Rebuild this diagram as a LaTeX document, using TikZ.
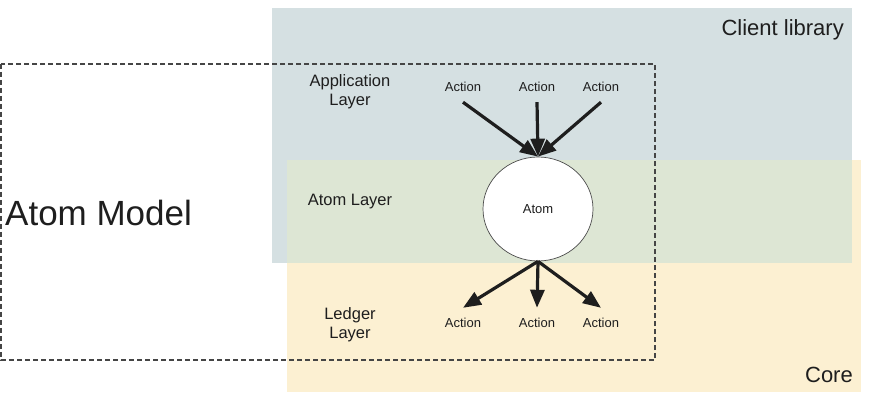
\documentclass[tikz,border=0pt]{standalone}
\usepackage{fontspec}
\setmainfont{Liberation Sans}
\usetikzlibrary{shapes.geometric,arrows.meta}
\definecolor{clientbg}{HTML}{D5E0E2}
\definecolor{overlapbg}{HTML}{DDE6D4}
\definecolor{corebg}{HTML}{FCF0D2}
\definecolor{ink}{HTML}{1E1E1E}
\definecolor{dashink}{HTML}{454545}
\tikzset{
  bigtxt/.style={font=\fontsize{22}{26}\selectfont, text=ink, inner sep=0pt},
  layertxt/.style={font=\fontsize{16.5}{20}\selectfont, text=ink, align=center, inner sep=0pt},
  actiontxt/.style={font=\fontsize{13}{15}\selectfont, text=ink, minimum height=30pt, inner sep=0pt},
  atomnode/.style={ellipse, draw=ink!80, line width=0.7pt, fill=white, minimum width=110pt, minimum height=104pt, font=\fontsize{13}{15}\selectfont, text=ink},
  flow/.style={draw=ink, line width=3.2pt, -{Triangle[length=18pt,width=14pt]}},
  modelbox/.style={draw=dashink, line width=1.5pt, dash pattern=on 5pt off 3pt}
}
\begin{document}
\begin{tikzpicture}[x=1pt,y=-1pt]
\useasboundingbox (0,0) rectangle (880,411);
% regions
\fill[clientbg] (272,8) rectangle (852,263);
\fill[corebg] (287,160) rectangle (861,392);
\fill[overlapbg] (287,160) rectangle (852,263);
% dashed atom model box
\draw[modelbox] (1,64) rectangle (655,360);
% region labels
\node[bigtxt, anchor=east] (client) at (844,30) {Client library};
\node[bigtxt, anchor=east] (core) at (853,375) {Core};
\node[font=\fontsize{35}{40}\selectfont, text=ink, inner sep=0pt, anchor=west] (model) at (5,213) {Atom Model};
% layer labels
\node[layertxt] (applayer) at (350,92) {Application\\[-1pt]Layer};
\node[layertxt] (atomlayer) at (350,202) {Atom Layer};
\node[layertxt] (ledger) at (350,325) {Ledger\\[-1pt]Layer};
% atom
\node[atomnode] (atom) at (538,209) {Atom};
% actions
\node[actiontxt] (a1) at (463,87) {Action};
\node[actiontxt] (a2) at (537,87) {Action};
\node[actiontxt] (a3) at (601,87) {Action};
\node[actiontxt] (b1) at (463,323) {Action};
\node[actiontxt] (b2) at (537,323) {Action};
\node[actiontxt] (b3) at (601,323) {Action};
% arrows
\draw[flow] (a1.south) -- (atom.north);
\draw[flow] (a3.south) -- (atom.north);
\draw[flow] (a2.south) -- (atom.north);
\draw[flow] (atom.south) -- (b1.north);
\draw[flow] (atom.south) -- (b2.north);
\draw[flow] (atom.south) -- (b3.north);
\end{tikzpicture}
\end{document}
